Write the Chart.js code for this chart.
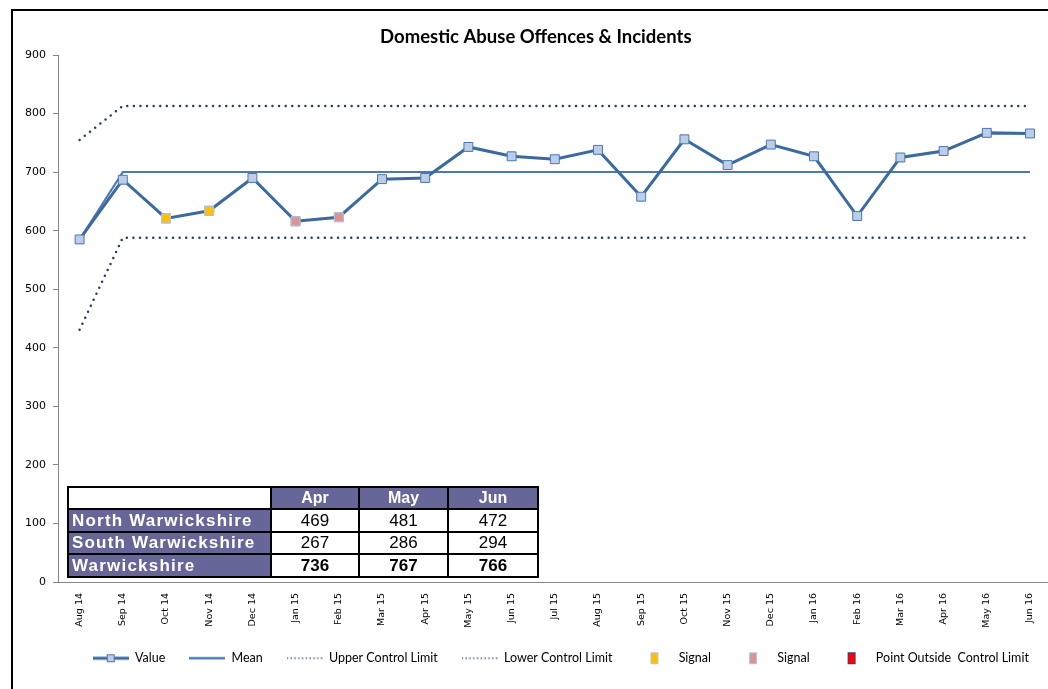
<!DOCTYPE html>
<html>
<head>
<meta charset="utf-8">
<script src="https://cdn.jsdelivr.net/npm/chart.js@4.4.1/dist/chart.umd.min.js"></script>
<style>
html, body { margin: 0; padding: 0; background: #fff; width: 1048px; height: 689px; overflow: hidden; }
#frame { position: absolute; left: 11px; top: 9px; width: 1100px; height: 720px; border-left: 2px solid #000; border-top: 2px solid #000; }
#wrap { position: absolute; left: 0; top: 0; width: 1072px; height: 689px; }
#tbl { position: absolute; left: 67px; top: 486px; width: 471px; border-collapse: collapse; font-family: "Liberation Sans", Arial, sans-serif; table-layout: fixed; }
#tbl td { border: 2px solid #000; padding: 0; line-height: 18px; }
#tbl .area { background: #666699; color: #fff; font-weight: bold; font-size: 17px; letter-spacing: 1.2px; padding-left: 3px; }
#tbl .mon { background: #666699; color: #fff; font-weight: bold; font-size: 16px; text-align: center; }
#tbl .num { background: #fff; color: #000; font-size: 17px; text-align: center; }
#tbl .bold { font-weight: bold; }
</style>
</head>
<body>
<div id="frame"></div>
<div id="wrap"><canvas id="spc" width="1072" height="689"></canvas></div>
<table id="tbl"></table>
<script>
const months = ['Aug 14', 'Sep 14', 'Oct 14', 'Nov 14', 'Dec 14', 'Jan 15', 'Feb 15', 'Mar 15', 'Apr 15', 'May 15', 'Jun 15', 'Jul 15',
    'Aug 15', 'Sep 15', 'Oct 15', 'Nov 15', 'Dec 15', 'Jan 16', 'Feb 16', 'Mar 16', 'Apr 16', 'May 16', 'Jun 16'];
const values = [585, 687, 621, 634, 690, 616, 623, 688, 690, 743, 727, 722, 738, 658, 756, 712, 747, 727, 625, 725, 736, 767, 766];
const meanLine = [585, 700, 700, 700, 700, 700, 700, 700, 700, 700, 700, 700, 700, 700, 700, 700, 700, 700, 700, 700, 700, 700, 700];
const upperLimit = [755, 813, 813, 813, 813, 813, 813, 813, 813, 813, 813, 813, 813, 813, 813, 813, 813, 813, 813, 813, 813, 813, 813];
const lowerLimit = [431, 588, 588, 588, 588, 588, 588, 588, 588, 588, 588, 588, 588, 588, 588, 588, 588, 588, 588, 588, 588, 588, 588];
const signalAmber = [null, null, 621, 634, null, null, null, null, null, null, null, null, null, null, null, null, null, null, null, null, null, null, null];
const signalPink = [null, null, null, null, null, 616, 623, null, null, null, null, null, null, null, null, null, null, null, null, null, null, null, null];
const outsideLimit = [null, null, null, null, null, null, null, null, null, null, null, null, null, null, null, null, null, null, null, null, null, null, null];
const yTicks = [0, 100, 200, 300, 400, 500, 600, 700, 800, 900];

const tableMonths = ['Apr', 'May', 'Jun'];
const tableAreas = ['North Warwickshire', 'South Warwickshire', 'Warwickshire'];
const northValues = [469, 481, 472];
const southValues = [267, 286, 294];
const countyValues = [736, 767, 766];

// table under the chart
const tbl = document.getElementById('tbl');
const rowHeights = [22, 23, 22, 23];
let html = `<colgroup><col style="width:203px"><col style="width:88px"><col style="width:89px"><col style="width:90px"></colgroup>`;
html += `<tr style="height:${rowHeights[0]}px"><td style="background:#fff"></td>` + tableMonths.map(m => `<td class="mon">${m}</td>`).join('') + '</tr>';
[northValues, southValues, countyValues].forEach((vals, i) => {
    const cls = i === 2 ? 'num bold' : 'num';
    html += `<tr style="height:${rowHeights[i + 1]}px"><td class="area">${tableAreas[i]}</td>` + vals.map(v => `<td class="${cls}">${v}</td>`).join('') + '</tr>';
});
tbl.innerHTML = html;

// little pictures for the legend
function legendIcon(kind) {
    const c = document.createElement('canvas');
    c.width = 36; c.height = 14;
    const g = c.getContext('2d');
    if (kind === 'value' || kind === 'mean') {
        g.strokeStyle = kind === 'value' ? '#3a6aa0' : '#4a7ab4';
        g.lineWidth = kind === 'value' ? 3 : 2.5;
        g.beginPath(); g.moveTo(0, 7); g.lineTo(36, 7); g.stroke();
        if (kind === 'value') {
            g.fillStyle = '#bccde8'; g.fillRect(14, 3, 8, 8);
            g.strokeStyle = '#4a76ae'; g.lineWidth = 1; g.strokeRect(14.5, 3.5, 7, 7);
        }
    } else if (kind === 'dots') {
        g.strokeStyle = '#1f3e6c'; g.lineWidth = 1.5;
        g.setLineDash([1.2, 2.6]);
        g.beginPath(); g.moveTo(0, 7); g.lineTo(36, 7); g.stroke();
    } else {
        const fills = { amber: '#ffc000', pink: '#d99594', red: '#ff0000' };
        g.fillStyle = fills[kind];
        g.fillRect(15, 2, 6, 10);
        g.strokeStyle = kind === 'red' ? '#3c3c78' : '#b8c9e0';
        g.lineWidth = 1;
        g.strokeRect(14.5, 1.5, 7, 11);
    }
    return c;
}
const icons = [legendIcon('value'), legendIcon('mean'), legendIcon('dots'), legendIcon('dots'),
    legendIcon('amber'), legendIcon('pink'), legendIcon('red')];

// fixed legend height, and nudge title / legend sideways like the original
const fixedBoxes = {
    id: 'fixedBoxes',
    beforeLayout(chart) {
        const lg = chart.legend;
        if (lg && !lg._fixed) {
            const fit = lg.fit.bind(lg);
            lg.fit = function () { fit(); this.height = 61; };
            lg._fixed = true;
        }
    },
    afterLayout(chart) {
        chart.legend.left += 6; chart.legend.right += 6;
        chart.titleBlock.left += 10; chart.titleBlock.right += 10;
    }
};

const dotted = {
    borderColor: '#1f3e6c',
    borderWidth: 2.5,
    borderDash: [0, 6.6],
    borderCapStyle: 'round',
    pointRadius: 0,
    fill: false,
    order: 3
};

const ctx = document.getElementById('spc');
const spcChart = new Chart(ctx, {
    type: 'line',
    data: {
        labels: months,
        datasets: [
            {
                label: 'Value',
                data: values,
                borderColor: '#3a6aa0',
                borderWidth: 3,
                pointStyle: 'rect',
                pointRadius: 6.3,
                pointBackgroundColor: '#bccde8',
                pointBorderColor: '#4a76ae',
                pointBorderWidth: 1,
                order: 1
            },
            {
                label: 'Mean',
                data: meanLine,
                borderColor: '#4a7ab4',
                borderWidth: 2,
                pointRadius: 0,
                order: 2
            },
            Object.assign({ label: 'Upper Control Limit', data: upperLimit }, dotted),
            Object.assign({ label: 'Lower Control Limit', data: lowerLimit }, dotted),
            {
                label: 'Signal',
                data: signalAmber,
                showLine: false,
                pointStyle: 'rect',
                pointRadius: 6.3,
                pointBackgroundColor: '#ffc000',
                pointBorderColor: '#b8c9e0',
                pointBorderWidth: 1,
                order: 0
            },
            {
                label: 'Signal',
                data: signalPink,
                showLine: false,
                pointStyle: 'rect',
                pointRadius: 6.3,
                pointBackgroundColor: '#d99594',
                pointBorderColor: '#b8c9e0',
                pointBorderWidth: 1,
                order: 0
            },
            {
                label: 'Point Outside  Control Limit',
                data: outsideLimit,
                showLine: false,
                pointStyle: 'rect',
                pointRadius: 6.3,
                pointBackgroundColor: '#ff0000',
                pointBorderColor: '#3c3c78',
                order: 0
            }
        ]
    },
    options: {
        responsive: false,
        animation: false,
        layout: { padding: { left: 0, right: 20.4, top: 0, bottom: 0 } },
        scales: {
            x: {
                type: 'category',
                offset: true,
                grid: { display: false, drawTicks: false },
                border: { color: '#868686', width: 1 },
                ticks: {
                    autoSkip: false,
                    minRotation: 90,
                    maxRotation: 90,
                    padding: 11,
                    color: '#000',
                    font: { family: 'DejaVu Sans', size: 9.5 }
                },
                afterFit(scale) { scale.height = 46; }
            },
            y: {
                min: 0,
                max: 900,
                afterBuildTicks(scale) { scale.ticks = yTicks.map(v => ({ value: v })); },
                grid: { drawOnChartArea: false, drawTicks: true, tickLength: 5, color: '#868686' },
                border: { color: '#868686', width: 1 },
                ticks: {
                    padding: 7,
                    color: '#000',
                    font: { family: 'DejaVu Sans', size: 11 }
                },
                afterFit(scale) { scale.width = 58; }
            }
        },
        plugins: {
            tooltip: { enabled: false },
            title: {
                display: true,
                text: 'Domestic Abuse Offences & Incidents',
                color: '#000',
                font: { family: 'Lato', size: 18.5, weight: 'bold', lineHeight: 1.2 },
                padding: { top: 26, bottom: 6.8 }
            },
            legend: {
                position: 'bottom',
                fullSize: false,
                labels: {
                    usePointStyle: true,
                    pointStyleWidth: 36,
                    boxHeight: 12,
                    padding: 24,
                    color: '#000',
                    font: { family: 'Lato', size: 12.5 },
                    generateLabels(chart) {
                        const items = Chart.defaults.plugins.legend.labels.generateLabels(chart);
                        items.forEach(it => { it.pointStyle = icons[it.datasetIndex]; it.lineWidth = 0; });
                        return items.sort((a, b) => a.datasetIndex - b.datasetIndex);
                    }
                }
            }
        }
    },
    plugins: [fixedBoxes]
});
</script>
</body>
</html>
